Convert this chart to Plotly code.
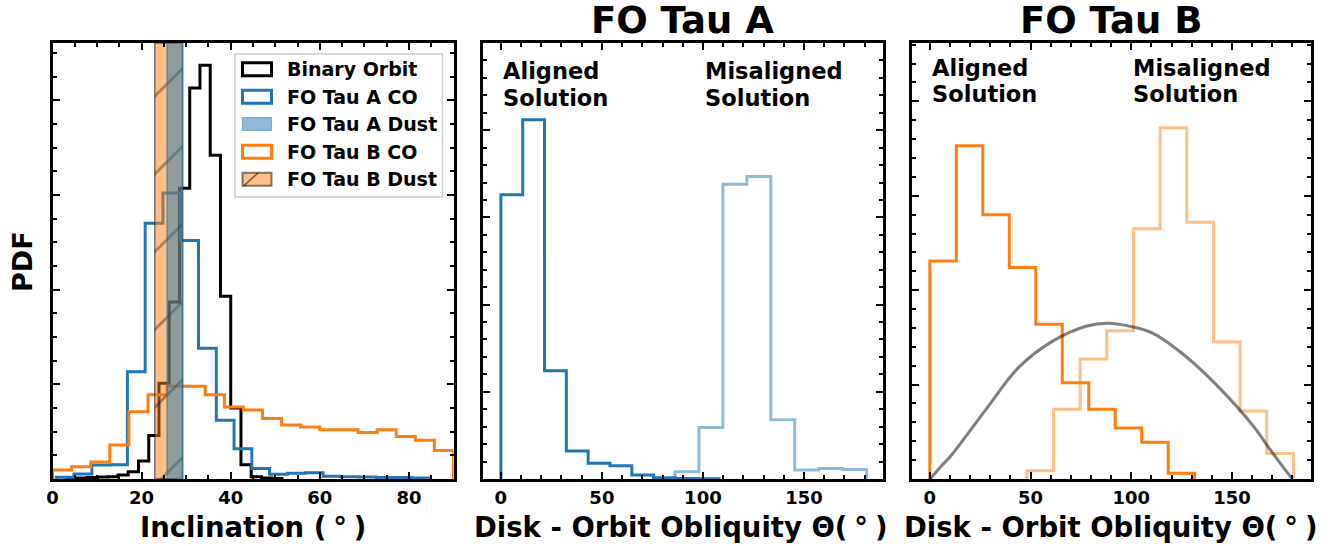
import plotly.graph_objects as go

W, H = 1340, 546

# ---------------- data ----------------
# Panel 1: inclination PDFs
binary_edges = [3.2, 5.5, 7.8, 10.1, 12.4, 14.7, 17.0, 19.3, 21.6, 23.9, 26.2, 28.5,
                30.8, 33.1, 35.4, 37.7, 40.0, 42.3, 44.6, 46.9, 49.2, 51.5]
binary_pdf = [0.0001, 0.0002, 0.0003, 0.0004, 0.0005, 0.00084, 0.00154, 0.0038, 0.0092,
              0.0202, 0.0374, 0.0614, 0.0826, 0.0874, 0.0684, 0.0386, 0.015, 0.003,
              0.0005, 0.0002, 0.0001]

tauA_co_edges = [0.85, 4.84, 8.83, 12.82, 16.81, 20.8, 24.79, 28.78, 32.77, 36.76, 40.75,
                 44.74, 48.73, 52.72, 56.71, 60.7, 64.69, 68.68, 72.67, 76.66, 80.65, 84.64]
tauA_co_pdf = [0.00036, 0.00106, 0.00296, 0.003, 0.02266, 0.054, 0.0604, 0.0504, 0.0276,
               0.0124, 0.0064, 0.0022, 0.001, 0.0012, 0.0013, 0.0006, 0.0005, 0.0004,
               0.0003, 0.0003, 0.0002]

tauB_co_edges = [0.0, 4.286, 8.571, 12.857, 17.143, 21.429, 25.714, 30.0, 34.286, 38.571,
                 42.857, 47.143, 51.429, 55.714, 60.0, 64.286, 68.571, 72.857, 77.143,
                 81.429, 85.714, 90.0]
tauB_co_pdf = [0.0019, 0.0026, 0.0036, 0.0072, 0.0142, 0.0178, 0.0196, 0.0196, 0.0178,
               0.0152, 0.0146, 0.0128, 0.0114, 0.011, 0.0104, 0.0104, 0.0098, 0.0104,
               0.009, 0.0082, 0.006]

tauA_dust = [25.7, 29.2]
tauB_dust = [22.95, 29.2]

# Panel 2: FO Tau A obliquity
A_aligned_edges = [0.0, 10.8, 21.6, 32.4, 43.2, 54.0, 64.8, 75.6, 86.4, 97.2, 108.0]
A_aligned_pdf = [0.0326, 0.0412, 0.0124, 0.0032, 0.0018, 0.00153, 0.00046, 0.00015,
                 0.00005, 0.00003]
A_mis_edges = [86.2, 98.05, 109.9, 121.75, 133.6, 145.45, 157.3, 169.15, 181.0]
A_mis_pdf = [0.00084, 0.0059, 0.0338, 0.0347, 0.0068, 0.00103, 0.0012, 0.0011]

# Panel 3: FO Tau B obliquity
B_aligned_edges = [0.0, 13.15, 26.3, 39.45, 52.6, 65.75, 78.9, 92.05, 105.2, 118.35, 131.5]
B_aligned_pdf = [0.01155, 0.01765, 0.014, 0.0112, 0.0082, 0.0051, 0.0037, 0.0027,
                 0.00195, 0.0003]
B_mis_edges = [48.2, 61.43, 74.66, 87.89, 101.12, 114.35, 127.58, 140.81, 154.04,
               167.27, 180.5]
B_mis_pdf = [0.00044, 0.0037, 0.00635, 0.00785, 0.01325, 0.0186, 0.0136, 0.00725,
             0.0036, 0.00135]

iso_theta = [0, 5, 11, 28, 44, 61, 78, 88, 101, 111, 127, 144, 161, 169, 176, 180]
iso_pdf = [0.0, 0.0006, 0.0013, 0.0037, 0.0059, 0.0073, 0.0081, 0.00825, 0.00805,
           0.0077, 0.0065, 0.0048, 0.00275, 0.00155, 0.00055, 0.0]

ylims = [0.0921, 0.050, 0.02309]

C0 = '#1f77b4'
C1 = '#ff7f0e'
C0a = 'rgba(31,119,180,0.5)'
C1a = 'rgba(255,127,14,0.5)'
FONT = 'DejaVu Sans'


def step_xy(edges, vals):
    x = [edges[0]] + list(edges)
    y = [0] + list(vals) + [0]
    return x, y


def step_trace(edges, vals, color, xa, ya, width=3):
    x, y = step_xy(edges, vals)
    return go.Scatter(x=x, y=y, mode='lines', line=dict(color=color, width=width, shape='hv'),
                      xaxis=xa, yaxis=ya, showlegend=False, hoverinfo='skip')


fig = go.Figure()
# panel 1
fig.add_trace(step_trace(binary_edges, binary_pdf, 'black', 'x', 'y'))
fig.add_trace(step_trace(tauA_co_edges, tauA_co_pdf, C0, 'x', 'y'))
fig.add_trace(step_trace(tauB_co_edges, tauB_co_pdf, C1, 'x', 'y'))
# dust bands
a, b = tauB_dust
fig.add_trace(go.Scatter(x=[a, b, b, a, a], y=[0, 0, ylims[0], ylims[0], 0], mode='lines',
                         fill='toself', fillcolor=C1a,
                         fillpattern=dict(shape='/', bgcolor=C1a, fgcolor='rgba(30,20,10,0.8)',
                                          size=55, solidity=0.05),
                         line=dict(color='rgba(0,0,0,0.5)', width=1.5),
                         xaxis='x', yaxis='y', showlegend=False, hoverinfo='skip'))
a, b = tauA_dust
fig.add_trace(go.Scatter(x=[a, b, b, a, a], y=[0, 0, ylims[0], ylims[0], 0], mode='lines',
                         fill='toself', fillcolor=C0a,
                         line=dict(color='rgba(31,119,180,0.55)', width=1.5),
                         xaxis='x', yaxis='y', showlegend=False, hoverinfo='skip'))
# panel 2
fig.add_trace(step_trace(A_aligned_edges, A_aligned_pdf, C0, 'x2', 'y2'))
fig.add_trace(step_trace(A_mis_edges, A_mis_pdf, C0a, 'x2', 'y2'))
# panel 3
fig.add_trace(step_trace(B_aligned_edges, B_aligned_pdf, C1, 'x3', 'y3'))
fig.add_trace(step_trace(B_mis_edges, B_mis_pdf, C1a, 'x3', 'y3'))
fig.add_trace(go.Scatter(x=iso_theta, y=iso_pdf, mode='lines',
                         line=dict(color='rgba(0,0,0,0.5)', width=3, shape='spline'),
                         xaxis='x3', yaxis='y3', showlegend=False, hoverinfo='skip'))


def axis(domain, rng, dtick, mdtick, labels=True, anchor=None):
    d = dict(domain=domain, range=rng, dtick=dtick, tick0=0, showline=True, linecolor='black',
             linewidth=3, mirror='allticks', ticks='inside', ticklen=7, tickwidth=2,
             tickcolor='black', showgrid=False, zeroline=False, showticklabels=labels,
             automargin=False,
             tickfont=dict(family=FONT, size=18, color='black', weight='bold'),
             minor=dict(dtick=mdtick, tick0=0, ticks='inside', ticklen=4, tickwidth=1.5,
                        tickcolor='black', showgrid=False),
             anchor=anchor, fixedrange=True)
    return d


ydom = [(H - 479) / H, (H - 43) / H]
fig.update_layout(
    width=W, height=H, margin=dict(l=0, r=0, t=0, b=0, pad=0, autoexpand=False),
    paper_bgcolor='white', plot_bgcolor='white',
    font=dict(family=FONT, color='black', weight='bold'),
    xaxis=axis([52.5 / W, 453.5 / W], [0, 90], 20, 5, anchor='y'),
    yaxis=axis(ydom, [0, ylims[0]], 0.02, 0.005, labels=False, anchor='x'),
    xaxis2=axis([482.7 / W, 882.7 / W], [-9, 189], 50, 10, anchor='y2'),
    yaxis2=axis(ydom, [0, ylims[1]], 0.01, 0.002, labels=False, anchor='x2'),
    xaxis3=axis([911.7 / W, 1310.5 / W], [-9, 189], 50, 10, anchor='y3'),
    yaxis3=axis(ydom, [0, ylims[2]], 0.005, 0.001, labels=False, anchor='x3'),
)


def px(x):
    return x / W


def py(y):
    return 1 - y / H


ann = []


def text(t, x, y, size, xanchor='center', xref='paper', angle=0):
    ann.append(dict(text=t, x=x, y=py(y), xref=xref, yref='paper', xanchor=xanchor,
                    yanchor='middle', showarrow=False, textangle=angle,
                    font=dict(family=FONT, size=size, color='black', weight='bold')))


SP = '\u2005'
text('FO Tau A', px(682.7), 21, 37)
text('FO Tau B', px(1111), 21, 37)
text('Inclination (' + SP + '°' + SP + ')', px(253), 527, 27.5)
text('Disk - Orbit Obliquity Θ(' + SP + '°' + SP + ')', px(681), 527, 27.5)
text('Disk - Orbit Obliquity Θ(' + SP + '°' + SP + ')', px(1111), 527, 27.5)
text('PDF', px(22), 262, 27, angle=-90)
# solution labels (anchored at data x)
for xr, yl1, yl2 in [('x2', 71.5, 98), ('x3', 67.5, 94)]:
    text('Aligned', 0, yl1, 22.5, xanchor='left', xref=xr)
    text('Solution', 0, yl2, 22.5, xanchor='left', xref=xr)
    text('Misaligned', 100, yl1, 22.5, xanchor='left', xref=xr)
    text('Solution', 100, yl2, 22.5, xanchor='left', xref=xr)

# manual legend
legend_items = ['Binary Orbit', 'FO Tau A CO', 'FO Tau A Dust', 'FO Tau B CO', 'FO Tau B Dust']
legend_fill = ['white', 'white', C0a, 'white', C1a]
legend_line = ['black', C0, C0a, C1, 'rgba(0,0,0,0.5)']
legend_lw = [3, 3, 1, 3, 2]
shapes = [dict(type='rect', xref='paper', yref='paper', x0=px(235), x1=px(442.5),
               y0=py(197), y1=py(54), line=dict(color='#cccccc', width=1.5),
               fillcolor='rgba(255,255,255,0.85)', layer='above')]
centers = [69.3, 96.7, 124.0, 151.7, 179.3]
for i, cy in enumerate(centers):
    shapes.append(dict(type='rect', xref='paper', yref='paper', x0=px(242.5), x1=px(271.5),
                       y0=py(cy + 6.5), y1=py(cy - 6.5),
                       line=dict(color=legend_line[i], width=legend_lw[i]),
                       fillcolor=legend_fill[i], layer='above'))
    ann.append(dict(text=legend_items[i], x=px(285), y=py(cy), xref='paper', yref='paper',
                    xanchor='left', yanchor='middle', showarrow=False,
                    font=dict(family=FONT, size=19, color='black', weight='bold')))
shapes.append(dict(type='line', xref='paper', yref='paper', x0=px(243.5), y0=py(186),
                   x1=px(258), y1=py(173), line=dict(color='rgba(0,0,0,0.55)', width=1.5),
                   layer='above'))

fig.update_layout(annotations=ann, shapes=shapes)
fig.write_html('out.html')
